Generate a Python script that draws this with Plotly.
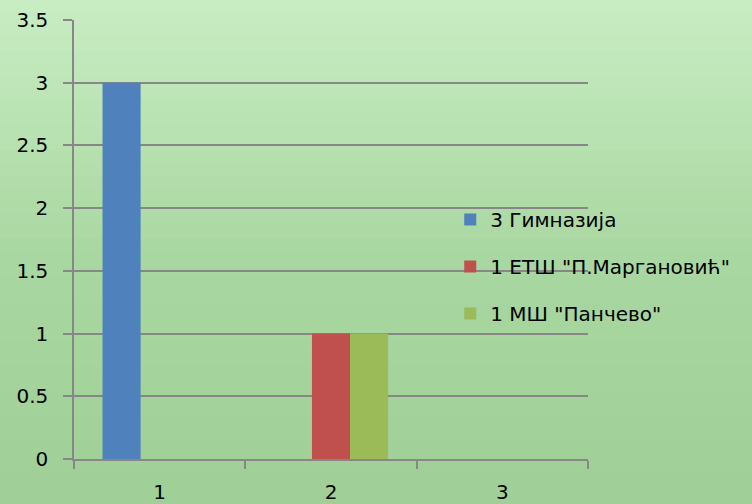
import plotly.graph_objects as go

categories = ["1", "2", "3"]
series_names = ["3 Гимназија", "1 ЕТШ \"П.Маргановић\"", "1 МШ \"Панчево\""]
gimnazija = [3, None, None]
etsh = [None, 1, None]
msh = [None, 1, None]
colors = ["#4f81bd", "#c0504d", "#9bbb59"]

FONT = "DejaVu Sans"
GRID = "#878787"

fig = go.Figure()
for i, (name, vals) in enumerate(zip(series_names, [gimnazija, etsh, msh])):
    fig.add_trace(
        go.Bar(
            x=categories,
            y=vals,
            name=name,
            marker=dict(color=colors[i], line=dict(width=0)),
            legendgroup=f"g{i}",
        )
    )

# grass-like light green gradient behind everything
top = (200, 237, 195)
mid = (170, 216, 162)
bot = (160, 207, 151)
n = 40
y_top, y_bot = 1.0456, -0.1025
shapes = []
for k in range(n):
    t = k / (n - 1)
    if t < 0.5:
        c = [int(top[j] + (mid[j] - top[j]) * t / 0.5) for j in range(3)]
    else:
        c = [int(mid[j] + (bot[j] - mid[j]) * (t - 0.5) / 0.5) for j in range(3)]
    y0 = y_top + (y_bot - y_top) * k / n
    y1 = y_top + (y_bot - y_top) * (k + 1) / n
    shapes.append(
        dict(
            type="rect", xref="paper", yref="paper",
            x0=-0.2, x1=1.4, y0=y1 - 0.002, y1=y0 + 0.002,
            fillcolor=f"rgb({c[0]},{c[1]},{c[2]})",
            line=dict(width=0), layer="below",
        )
    )

fig.update_layout(
    width=752,
    height=504,
    margin=dict(l=74, r=164, t=20, b=45),
    paper_bgcolor="rgb(172,217,164)",
    plot_bgcolor="rgba(0,0,0,0)",
    barmode="group",
    bargap=0.333,
    bargroupgap=0,
    shapes=shapes,
    font=dict(family=FONT, size=20, color="#000000"),
    showlegend=True,
    legend=dict(
        x=0.732, y=0.59, xanchor="left", yanchor="top",
        bgcolor="rgba(0,0,0,0)",
        font=dict(family=FONT, size=20, color="#000000"),
        tracegroupgap=18,
        traceorder="grouped",
        itemsizing="constant",
    ),
)
fig.update_yaxes(
    automargin=False,
    range=[0, 3.5],
    dtick=0.5,
    tickformat="~g",
    showgrid=True,
    gridcolor=GRID,
    gridwidth=1.5,
    zeroline=False,
    showline=True,
    linecolor=GRID,
    linewidth=1.5,
    ticks="outside",
    ticklen=9,
    tickcolor=GRID,
    tickwidth=1.5,
    ticklabelstandoff=11,
)
fig.update_xaxes(
    automargin=False,
    type="category",
    showgrid=False,
    showline=True,
    linecolor=GRID,
    linewidth=1.5,
    ticks="outside",
    tickson="boundaries",
    ticklen=8,
    tickcolor=GRID,
    tickwidth=1.5,
    ticklabelstandoff=14,
)

# drop the default page margin so the figure fills the window
fig.write_html(
    "out.html",
    config={"displayModeBar": False},
    post_script="document.body.style.margin='0';",
)
